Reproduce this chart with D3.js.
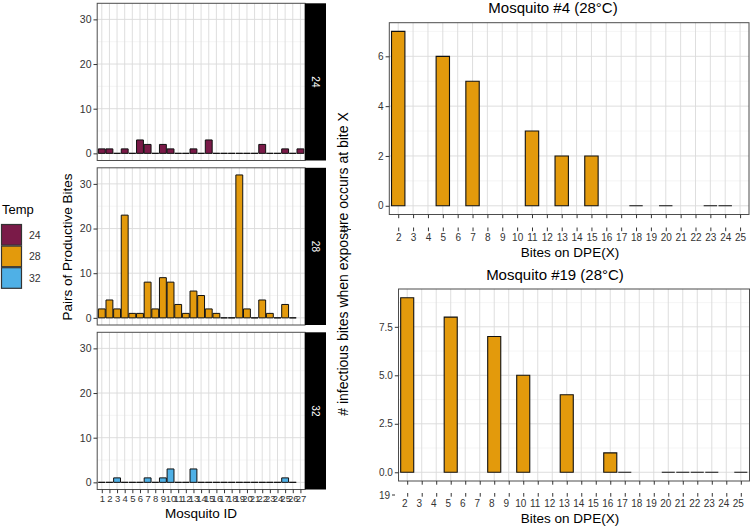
<!DOCTYPE html>
<html>
  <head>
    <meta charset="UTF-8" />
    <script src="https://d3js.org/d3.v7.min.js"></script>
    <style>
      body { margin: 0; background: #fff; }
      svg { font-family: "Liberation Sans", Arial, sans-serif; }
    </style>
  </head>
  <body>
    <div id="chart"></div>

    <script>
      // ---- data ----
      var mosquitoIds = ["1","2","3","4","5","6","7","8","9","10","11","12","13","14",
        "15","16","17","18","19","20","21","22","23","24","25","26","27"];
      var temps = ["24", "28", "32"];
      var tempColors = ["#7a1a48", "#e39a0c", "#4fb0e6"];
      // productive bite pairs per mosquito (null = not observed)
      var pairs24 = [1,1,0,1,0,3,2,0,2,1,0,0,1,0,3,0,0,0,0,0,0,2,0,0,1,0,1];
      var pairs28 = [2,4,2,23,1,1,8,2,9,8,3,1,6,5,2,1,0,0,32,2,0,4,1,0,3,0,null];
      var pairs32 = [0,0,1,0,0,0,1,0,1,3,0,0,3,0,0,0,0,0,0,0,0,0,0,0,1,0,null];
      var leftTicks = [0, 10, 20, 30];

      var biteCats = ["2","3","4","5","6","7","8","9","10","11","12","13","14",
        "15","16","17","18","19","20","21","22","23","24","25"];
      var m4Bites = ["2","5","7","11","13","15","18","20","23","24"];
      var m4Counts = [7, 6, 5, 3, 2, 2, 0, 0, 0, 0];
      var m19Bites = ["2","5","8","10","13","16","17","20","21","22","23","25"];
      var m19Counts = [9, 8, 7, 5, 4, 1, 0, 0, 0, 0, 0, 0];
      var m4Ticks = [0, 2, 4, 6];
      var m19Ticks = [0, 2.5, 5, 7.5];

      var gridMajor = "#dadada", gridMinor = "#efefef", borderCol = "#4d4d4d", tickCol = "#333";

      var svg = d3.select("#chart").append("svg")
        .attr("width", 750).attr("height", 528);

      function barPath(x0, w, y0, y1) {
        return "M" + x0 + "," + y0 + "H" + (x0 + w) + "V" + y1 + "H" + x0 + "Z";
      }

      function styleAxis(g) {
        g.select(".domain").remove();
        g.selectAll(".tick line").attr("stroke", tickCol);
        g.selectAll(".tick text").attr("fill", "#333").attr("font-size", 10)
          .attr("font-family", "Liberation Sans, Arial, sans-serif");
      }

      // ---- left faceted panels ----
      var leftX = d3.scalePoint().domain(mosquitoIds).range([97.2, 305]).padding(0.6);
      var lStep = leftX.step();
      var panelH = 157.2, panelTops = [3.3, 167.8, 332.3];
      var leftSeries = [pairs24, pairs28, pairs32];

      panelTops.forEach(function (top, pi) {
        var y = d3.scaleLinear().domain([-1.6, 33.6]).range([top + panelH, top]);
        var g = svg.append("g");
        // minor grid
        g.selectAll(".hmin").data([5, 15, 25]).enter().append("line")
          .attr("x1", 97.2).attr("x2", 305).attr("y1", y).attr("y2", y)
          .attr("stroke", gridMinor).attr("stroke-width", 0.6);
        g.selectAll(".hmaj").data(leftTicks).enter().append("line")
          .attr("x1", 97.2).attr("x2", 305).attr("y1", y).attr("y2", y)
          .attr("stroke", gridMajor).attr("stroke-width", 0.9);
        g.selectAll(".vmaj").data(mosquitoIds).enter().append("line")
          .attr("x1", leftX).attr("x2", leftX).attr("y1", top).attr("y2", top + panelH)
          .attr("stroke", gridMajor).attr("stroke-width", 0.9);

        var vals = leftSeries[pi];
        g.selectAll("path.bar").data(mosquitoIds.filter(function (d, i) { return vals[i] !== null; }))
          .enter().append("path").attr("class", "bar")
          .attr("d", function (d) {
            var v = vals[mosquitoIds.indexOf(d)];
            return barPath(leftX(d) - lStep * 0.45, lStep * 0.9, y(0), y(v));
          })
          .attr("fill", tempColors[pi]).attr("stroke", "#111").attr("stroke-width", 1);

        g.append("rect").attr("x", 97.2).attr("y", top).attr("width", 305 - 97.2).attr("height", panelH)
          .attr("fill", "none").attr("stroke", borderCol).attr("stroke-width", 1);

        // strip
        g.append("rect").attr("x", 305).attr("y", top).attr("width", 21).attr("height", panelH)
          .attr("fill", "#000");
        g.append("text").attr("transform", "translate(315.5," + (top + panelH / 2) + ") rotate(90)")
          .attr("text-anchor", "middle").attr("dy", "0.35em").attr("fill", "#fff")
          .attr("font-size", 10).text(temps[pi]);

        var ya = g.append("g").attr("transform", "translate(97.2,0)")
          .call(d3.axisLeft(y).tickValues(leftTicks).tickSize(3.7).tickPadding(2));
        styleAxis(ya);
        ya.selectAll(".tick text").attr("font-size", 10.5);
      });

      var lxa = svg.append("g").attr("transform", "translate(0," + (panelTops[2] + panelH) + ")")
        .call(d3.axisBottom(leftX).tickSize(3.7).tickPadding(2));
      styleAxis(lxa);
      lxa.selectAll(".tick text").attr("font-size", 9.5);

      svg.append("text").attr("x", 201).attr("y", 518).attr("text-anchor", "middle")
        .attr("font-size", 13.5).attr("fill", "#000").text("Mosquito ID");
      svg.append("text").attr("transform", "translate(72,247) rotate(-90)")
        .attr("text-anchor", "middle").attr("font-size", 13.5).text("Pairs of Productive Bites");

      // legend
      svg.append("text").attr("x", 2).attr("y", 214).attr("font-size", 13).text("Temp");
      temps.forEach(function (t, i) {
        var ky = 224 + i * 21.6;
        svg.append("rect").attr("x", 1.5).attr("y", ky + 0.5).attr("width", 20).attr("height", 20.6)
          .attr("fill", tempColors[i]).attr("stroke", "#333").attr("stroke-width", 1.2);
        svg.append("text").attr("x", 29).attr("y", ky + 11).attr("dy", "0.35em")
          .attr("font-size", 10.5).attr("fill", "#333").text(t);
      });

      // ---- right panels ----
      function rightPanel(opt) {
        var x = d3.scalePoint().domain(biteCats).range([opt.x0, opt.x1]).padding(0.6);
        var step = x.step();
        var y = d3.scaleLinear().domain(opt.domain).range([opt.y1, opt.y0]);
        var g = svg.append("g");
        g.selectAll(".hmin").data(opt.minor).enter().append("line")
          .attr("x1", opt.x0).attr("x2", opt.x1).attr("y1", y).attr("y2", y)
          .attr("stroke", gridMinor).attr("stroke-width", 0.6);
        g.selectAll(".hmaj").data(opt.ticks).enter().append("line")
          .attr("x1", opt.x0).attr("x2", opt.x1).attr("y1", y).attr("y2", y)
          .attr("stroke", gridMajor).attr("stroke-width", 0.9);
        g.selectAll(".vmaj").data(biteCats).enter().append("line")
          .attr("x1", x).attr("x2", x).attr("y1", opt.y0).attr("y2", opt.y1)
          .attr("stroke", gridMajor).attr("stroke-width", 0.9);

        g.selectAll("path.bar").data(opt.cats).enter().append("path").attr("class", "bar")
          .attr("d", function (d, i) {
            return barPath(x(d) - step * 0.45, step * 0.9, y(0), y(opt.vals[i]));
          })
          .attr("fill", tempColors[1]).attr("stroke", "#111").attr("stroke-width", 1.1);

        g.append("rect").attr("x", opt.x0).attr("y", opt.y0).attr("width", opt.x1 - opt.x0)
          .attr("height", opt.y1 - opt.y0).attr("fill", "none").attr("stroke", borderCol);

        var ya = g.append("g").attr("transform", "translate(" + opt.x0 + ",0)")
          .call(d3.axisLeft(y).tickValues(opt.ticks).tickFormat(opt.fmt).tickSize(3.7).tickPadding(2));
        styleAxis(ya);

        var xa1 = g.append("g").attr("transform", "translate(0," + opt.y1 + ")")
          .call(d3.axisBottom(x).tickSize(3.7).tickFormat(""));
        styleAxis(xa1);
        var xa2 = g.append("g").attr("transform", "translate(0," + (opt.y1 + opt.gap) + ")")
          .call(d3.axisBottom(x).tickSize(3.7).tickPadding(3));
        styleAxis(xa2);
        xa2.selectAll(".tick text").attr("dx", opt.labelShift);

        // stray tick label left of the second axis row
        g.append("text").attr("x", opt.strayX).attr("y", opt.y1 + opt.gap + 2).attr("dy", "0.35em")
          .attr("text-anchor", "end").attr("font-size", 10).attr("fill", "#333").text(opt.stray);
        g.append("line").attr("x1", opt.strayX + 2).attr("x2", opt.strayX + 5)
          .attr("y1", opt.y1 + opt.gap + 2).attr("y2", opt.y1 + opt.gap + 2).attr("stroke", tickCol);

        g.append("text").attr("x", 553 + opt.titleShift).attr("y", opt.titleY).attr("text-anchor", "middle")
          .attr("font-size", 15).text(opt.title);
        g.append("text").attr("x", 570).attr("y", opt.xTitleY).attr("text-anchor", "middle")
          .attr("font-size", 13.5).text("Bites on DPE(X)");
      }

      rightPanel({
        x0: 389.3, x1: 749, y0: 22.7, y1: 214.5, domain: [-0.35, 7.35],
        cats: m4Bites, vals: m4Counts, ticks: m4Ticks, minor: [1, 3, 5, 7],
        fmt: d3.format("d"), gap: 13, labelShift: 0, stray: "4", strayX: 346,
        title: "Mosquito #4 (28\u00B0C)", titleY: 12.5, titleShift: 0, xTitleY: 257
      });
      rightPanel({
        x0: 398.5, x1: 749.5, y0: 289, y1: 481, domain: [-0.45, 9.45],
        cats: m19Bites, vals: m19Counts, ticks: m19Ticks, minor: [1.25, 3.75, 6.25, 8.75],
        fmt: d3.format(".1f"), gap: 12, labelShift: -3, stray: "19", strayX: 390,
        title: "Mosquito #19 (28\u00B0C)", titleY: 279.5, titleShift: 2, xTitleY: 523
      });

      svg.append("text").attr("transform", "translate(348,264) rotate(-90)")
        .attr("text-anchor", "middle").attr("font-size", 14)
        .text("# infectious bites when exposure occurs at bite X");
    </script>
  </body>
</html>
